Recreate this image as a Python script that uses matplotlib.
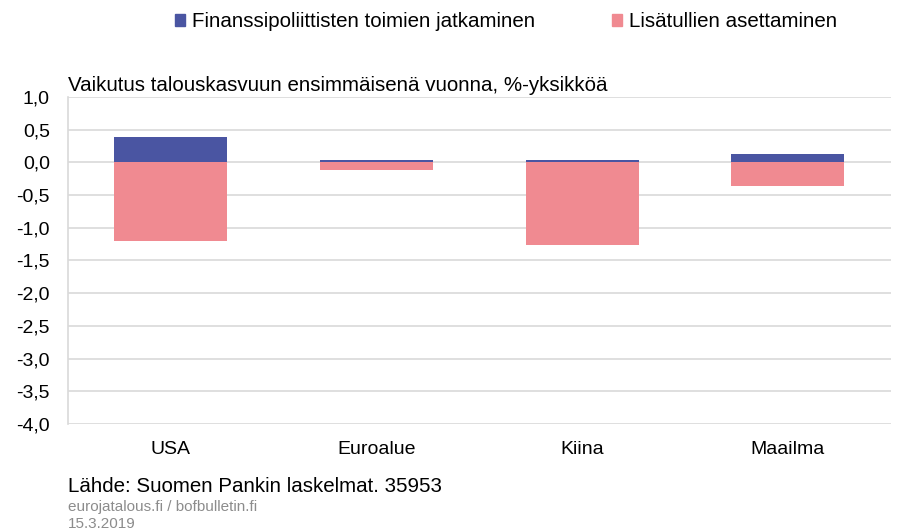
import numpy as np
import matplotlib.pyplot as plt
from matplotlib.patches import Patch

plt.rcParams['font.family'] = ['Liberation Sans', 'DejaVu Sans']

alueet = ['USA', 'Euroalue', 'Kiina', 'Maailma']
finanssi = [0.39, 0.03, 0.03, 0.13]
tullit = [-1.20, -0.11, -1.26, -0.36]
y_ticks = [1.0, 0.5, 0.0, -0.5, -1.0, -1.5, -2.0, -2.5, -3.0, -3.5, -4.0]

sininen = '#4a55a2'
punainen = '#f08a91'
harmaa = '#d9d9d9'

fig = plt.figure(figsize=(9.01, 5.32), dpi=100)
ax = fig.add_axes([0.0755, 0.203, 0.913, 0.6147])

x = np.arange(len(alueet))
ax.bar(x, finanssi, width=0.55, color=sininen, zorder=3)
ax.bar(x, tullit, width=0.55, color=punainen, zorder=3)

ax.set_xlim(-0.5, len(alueet) - 0.5)
ax.set_ylim(-4.0, 1.0)
ax.set_yticks(y_ticks)
ax.set_yticklabels([f'{v:.1f}'.replace('.', ',') for v in y_ticks], fontsize=14)
ax.set_xticks(x)
ax.set_xticklabels(alueet, fontsize=14)
ax.tick_params(length=0)
ax.tick_params(axis='y', pad=13)
ax.tick_params(axis='x', pad=12)
ax.grid(axis='y', color=harmaa, linewidth=1.2, zorder=0)
for s in ['top', 'right', 'bottom']:
    ax.spines[s].set_visible(False)
ax.spines['left'].set_color(harmaa)
ax.spines['left'].set_linewidth(1.2)

fig.text(0.0755, 0.829, 'Vaikutus talouskasvuun ensimmäisenä vuonna, %-yksikköä', fontsize=14.8)

handles = [Patch(color=sininen, label='Finanssipoliittisten toimien jatkaminen'),
           Patch(color=punainen, label='Lisätullien asettaminen')]
fig.legend(handles=handles, loc='upper center', bbox_to_anchor=(0.5616, 1.012), ncol=2,
           frameon=False, fontsize=14.8, handlelength=0.5, handleheight=0.5,
           handletextpad=0.35, columnspacing=3.7)

fig.text(0.0755, 0.075, 'Lähde: Suomen Pankin laskelmat. 35953', fontsize=14.8)
fig.text(0.0755, 0.039, 'eurojatalous.fi / bofbulletin.fi', fontsize=11, color='#8c8c8c')
fig.text(0.0755, 0.008, '15.3.2019', fontsize=11, color='#8c8c8c')

fig.savefig('out.png', dpi=100)
